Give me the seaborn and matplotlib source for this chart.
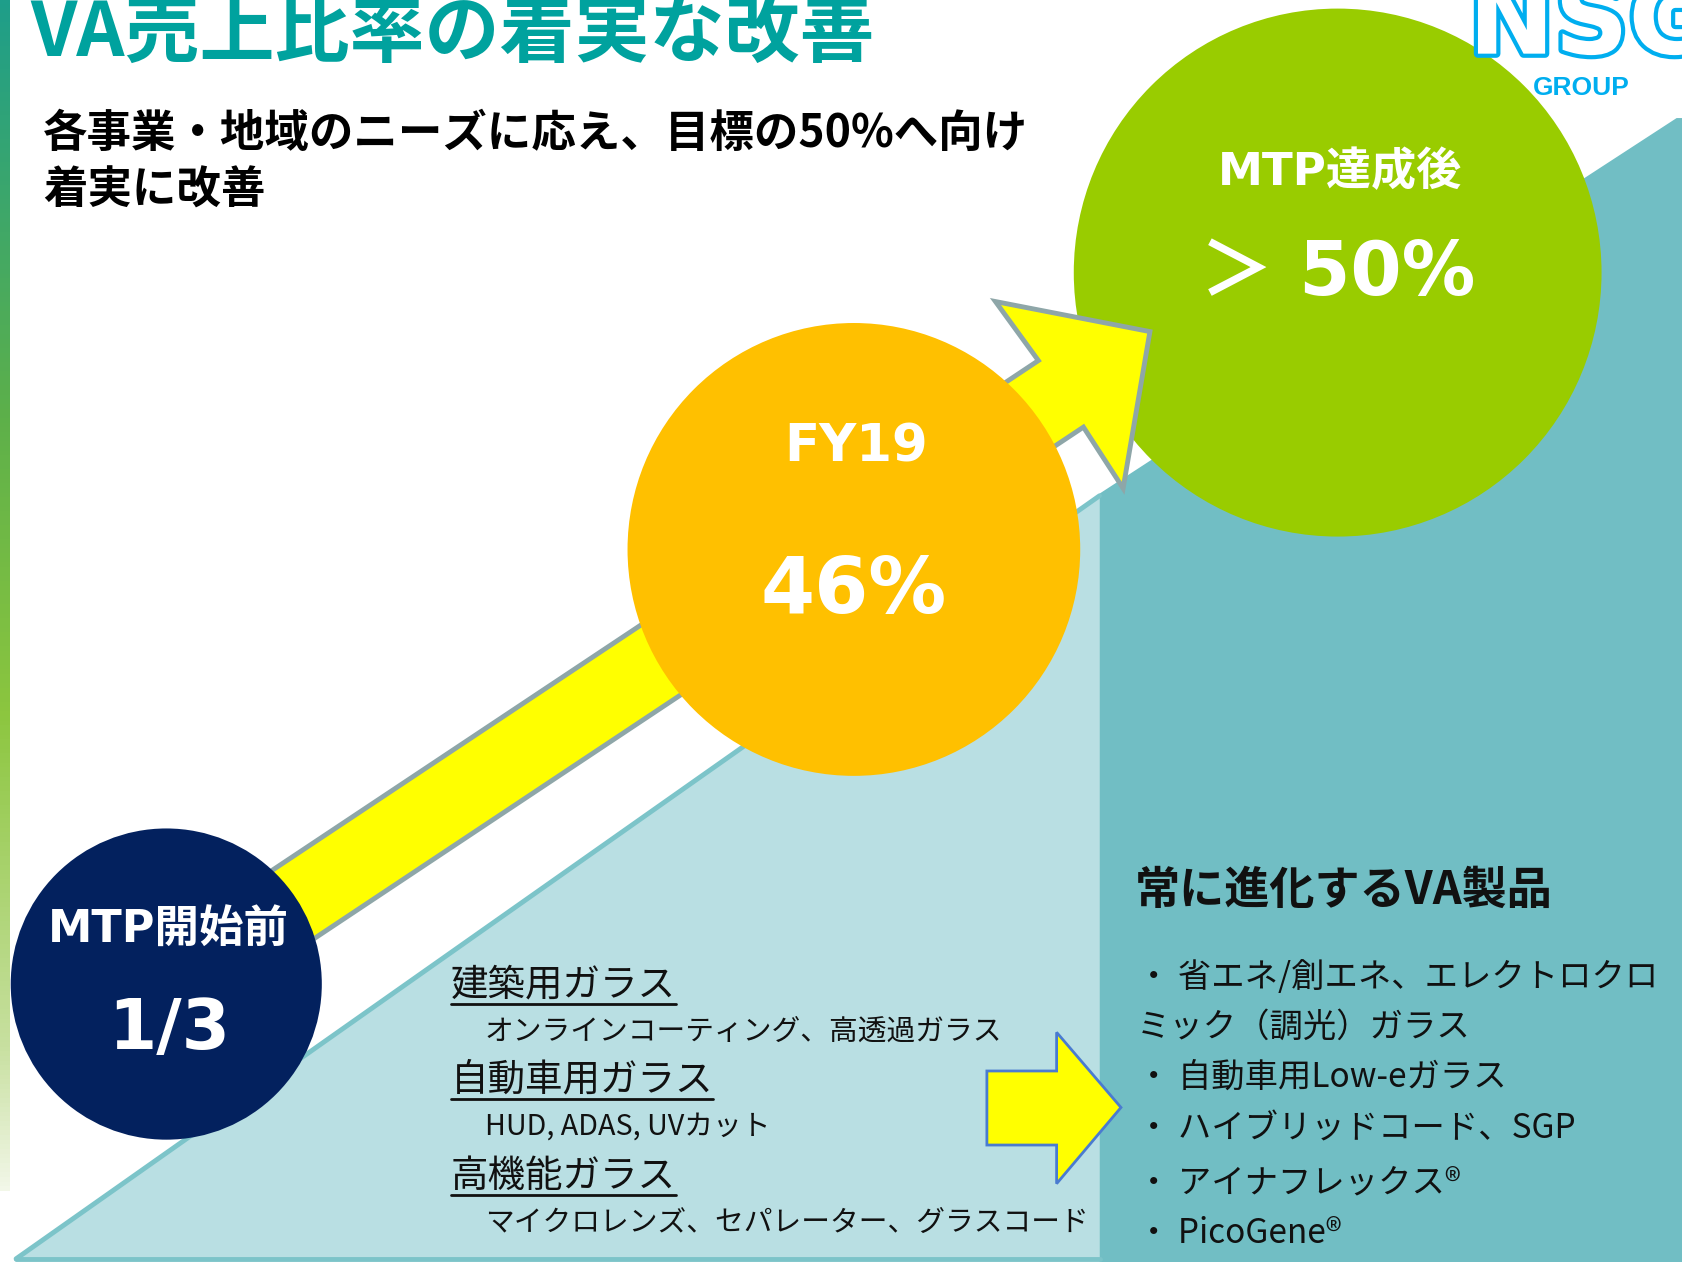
import numpy as np
import matplotlib
matplotlib.use("Agg")
import matplotlib.pyplot as plt
import matplotlib.patheffects as pe
from matplotlib.patches import Circle, Polygon
from matplotlib.colors import LinearSegmentedColormap
import seaborn as sns

# ---------------- data ----------------
title = "VA売上比率の着実な改善"
subtitle_lines = ["各事業・地域のニーズに応え、目標の50%へ向け", "着実に改善"]
stage_labels = ["MTP開始前", "FY19", "MTP達成後"]
stage_values = ["1/3", "46%", "＞ 50%"]
category_heads = ["建築用ガラス", "自動車用ガラス", "高機能ガラス"]
category_items = ["オンラインコーティング、高透過ガラス",
                  "HUD, ADAS, UVカット",
                  "マイクロレンズ、セパレーター、グラスコード"]
products_title = "常に進化するVA製品"
product_lines = ["・ 省エネ/創エネ、エレクトロクロ", "ミック（調光）ガラス",
                 "・ 自動車用Low-eガラス", "・ ハイブリッドコード、SGP",
                 "・ アイナフレックス®", "・ PicoGene®"]
logo_text = "NSG"
logo_sub = "GROUP"

# ---------------- style / layout ----------------
sns.set_theme(style="white")
JP = ['Noto Sans CJK JP', 'DejaVu Sans']
LAT = ['DejaVu Sans', 'Noto Sans CJK JP']
plt.rcParams['font.family'] = JP

W, H = 1568, 1176
DY = 4  # vertical text centring correction

fig = plt.figure(figsize=(16.82, 12.62), dpi=100)
fig.patch.set_facecolor("white")
ax = fig.add_axes([0, 0, 1, 1])
ax.set_facecolor("white")

# left gradient stripe
stripe_cmap = LinearSegmentedColormap.from_list(
    "stripe", [(0.0, "#1E9E8A"), (0.35, "#5DB04A"), (0.6, "#8CC63F"),
               (0.88, "#C8E0A0"), (1.0, "#F2F7E8")])
grad = np.linspace(0, 1, 256).reshape(-1, 1)
ax.imshow(grad, cmap=stripe_cmap, extent=(0, 9, 1110, 0), origin="upper",
          aspect="auto", zorder=1)

# background triangles
light_teal, dark_teal, edge_teal = "#B9DFE3", "#71BEC4", "#7CC4C9"
ax.add_patch(Polygon([(15, 1173), (1025, 462), (1025, 1173)], closed=True,
                     facecolor=light_teal, edgecolor="none", zorder=2))
ax.plot([15, 1025], [1173, 462], color=edge_teal, lw=3.5, zorder=2.1,
        solid_capstyle="round")
ax.plot([15, 1025], [1173, 1173], color=edge_teal, lw=3.5, zorder=2.1)
ax.add_patch(Polygon([(1025, 460), (1563, 110), (1570, 110), (1570, 1180),
                      (1025, 1180)], closed=True, facecolor=dark_teal,
                     edgecolor="none", zorder=2, joinstyle="round"))

# circles (x, y, r, colour)
circles = [(155, 917, 145, "#03215E"), (796, 512, 211, "#FFC000"),
           (1247, 254, 246, "#99CC00")]
circle_z = [6, 5, 3]
for (cx, cy, r, c), z in zip(circles, circle_z):
    ax.add_patch(Circle((cx, cy), r, facecolor=c, edgecolor="none", zorder=z))

# big yellow arrow
arrow = [(150, 880), (968, 336), (928, 281), (1072, 309), (1047, 455),
         (1010, 398), (190, 943)]
ax.add_patch(Polygon(arrow, closed=True, facecolor="#FFFF00",
                     edgecolor="#8EA6A8", lw=3.5, joinstyle="miter", zorder=4))

# small block arrow
small_arrow = [(920, 998), (985, 998), (985, 962), (1045, 1032),
               (985, 1103), (985, 1067), (920, 1067)]
ax.add_patch(Polygon(small_arrow, closed=True, facecolor="#FFFF00",
                     edgecolor="#4A7BD0", lw=2, joinstyle="miter", zorder=7))

# circle texts
label_y = [862, 413, 157]
value_y = [955, 547, 252]
label_size = [32, 37, 32.5]
value_size = [50, 56, 53]
for (cx, cy, r, c), lab, val, ly, vy, ls, vs in zip(
        circles, stage_labels, stage_values, label_y, value_y, label_size, value_size):
    ax.text(cx + 2, ly + DY, lab, ha="center", va="center", color="white",
            fontsize=ls, fontweight="bold", family=LAT, zorder=10)
    ax.text(cx + (3 if val == "1/3" else 0), vy + DY, val, ha="center", va="center",
            color="white", fontsize=vs, fontweight="bold", family=LAT, zorder=10)

# title + subtitle
ax.text(28, 32, title, ha="left", va="center", color="#00A29E",
        fontsize=54, fontweight="bold", family=JP, zorder=10)
for i, line in enumerate(subtitle_lines):
    ax.text(40, 122 + 53 * i + 3, line, ha="left", va="center", color="black",
            fontsize=32, fontweight="bold", family=JP, zorder=10)

# logo
ax.text(1369, 50, logo_text, ha="left", va="baseline", color="white",
        fontsize=74, fontweight="bold", family=['DejaVu Sans'], zorder=3.5,
        path_effects=[pe.Stroke(linewidth=6, foreground="#00AEEF"), pe.Normal()])
ax.text(1429, 82, logo_sub, ha="left", va="center", color="#00AEEF",
        fontsize=19, fontweight="bold", family=['Liberation Sans'], zorder=3.5)

# category texts
head_y = [915, 1003, 1093]
item_y = [958, 1047, 1137]
head_texts = []
for h, it, hy, iy in zip(category_heads, category_items, head_y, item_y):
    t = ax.text(420, hy + 3, h, ha="left", va="center", color="#111111",
                fontsize=27, family=JP, zorder=10)
    head_texts.append((t, hy))
    ax.text(452, iy + 3, it, ha="left", va="center", color="#111111",
            fontsize=20.7, family=JP, zorder=10)

# products text
ax.text(1058, 828 + 2, products_title, ha="left", va="center", color="#111111",
        fontsize=32.5, fontweight="bold", family=JP, zorder=10)
prod_y = [907, 953, 1000, 1048, 1098, 1145]
for line, py in zip(product_lines, prod_y):
    ax.text(1060, py + DY, line, ha="left", va="center", color="#111111",
            fontsize=24, family=JP, zorder=10)

ax.set_xlim(0, W)
ax.set_ylim(H, 0)
ax.axis("off")

# underlines measured from rendered text
fig.canvas.draw()
renderer = fig.canvas.get_renderer()
inv = ax.transData.inverted()
for t, hy in head_texts:
    bb = t.get_window_extent(renderer)
    (x0, _), (x1, _) = inv.transform([(bb.x0, bb.y0), (bb.x1, bb.y1)])
    ax.plot([x0, x1], [hy + 21, hy + 21], color="#111111", lw=2, zorder=10)

fig.savefig("out.png", dpi=100, facecolor="white")
